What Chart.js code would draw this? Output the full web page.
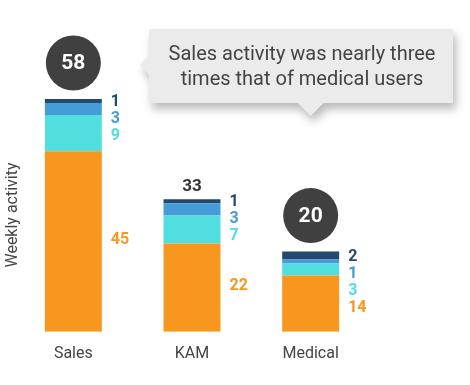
<!DOCTYPE html>
<html lang="en">
<head>
<meta charset="UTF-8">
<title>weekly activity</title>
<script src="https://cdn.jsdelivr.net/npm/chart.js@4.4.1/dist/chart.umd.min.js"></script>
<style>
  html, body { margin: 0; padding: 0; background: #fff; }
  #wrap { width: 470px; height: 385px; position: relative; }
</style>
</head>
<body>
<div id="wrap">
  <canvas id="mycanvas" width="470" height="385"></canvas>
</div>
<script>
// data
var categories = ['Sales', 'KAM', 'Medical'];
var orangeVals = [45, 22, 14];
var cyanVals = [9, 7, 3];
var blueVals = [3, 3, 1];
var navyVals = [1, 1, 2];
var circled = [true, false, true];
var calloutLines = ['Sales activity was nearly three', 'times that of medical users'];

var colors = ['#F7971E', '#52DEDE', '#459CD6', '#234A6E'];
var FONT = 'Roboto, "Noto Sans", sans-serif';

// labels + totals + callout
var labelPlugin = {
    id: 'labels',
    afterDatasetsDraw: function (chart) {
        var ctx = chart.ctx;
        var n = chart.data.datasets.length;
        ctx.save();
        for (var j = 0; j < categories.length; j++) {
            // segment labels, top one first
            var prev = -1000;
            var total = 0;
            for (var i = n - 1; i >= 0; i--) {
                var bar = chart.getDatasetMeta(i).data[j];
                var v = chart.data.datasets[i].data[j];
                total += v;
                var cy = (bar.y + bar.base) / 2;
                if (i == 0) cy -= 3;
                var y = Math.max(cy, prev + 17);
                prev = y;
                ctx.font = 'bold 16px ' + FONT;
                ctx.fillStyle = colors[i];
                ctx.textAlign = 'left';
                ctx.textBaseline = 'middle';
                ctx.fillText(String(v), bar.x + bar.width / 2 + 9, y + 1);
            }
            // total on top
            var top = chart.getDatasetMeta(n - 1).data[j];
            if (circled[j]) {
                ctx.beginPath();
                ctx.arc(top.x, top.y - 36, 27.5, 0, Math.PI * 2);
                ctx.fillStyle = '#404040';
                ctx.fill();
                ctx.font = 'bold 21px ' + FONT;
                ctx.fillStyle = '#fff';
                ctx.textAlign = 'center';
                ctx.fillText(String(total), top.x, top.y - 35);
            } else {
                ctx.font = 'bold 17px ' + FONT;
                ctx.fillStyle = '#333';
                ctx.textAlign = 'center';
                ctx.fillText(String(total), top.x, top.y - 13);
            }
        }

        // callout box
        var tipX = chart.getDatasetMeta(n - 1).data[2].x;
        ctx.save();
        ctx.shadowColor = 'rgba(0,0,0,0.28)';
        ctx.shadowBlur = 10;
        ctx.shadowOffsetX = 3;
        ctx.shadowOffsetY = 6;
        ctx.fillStyle = '#EBEBEB';
        ctx.beginPath();
        ctx.moveTo(149, 29);
        ctx.lineTo(453, 29);
        ctx.lineTo(453, 103);
        ctx.lineTo(tipX + 13, 103);
        ctx.lineTo(tipX, 116);
        ctx.lineTo(tipX - 13, 103);
        ctx.lineTo(149, 103);
        ctx.lineTo(149, 75);
        ctx.lineTo(140, 65);
        ctx.lineTo(149, 55);
        ctx.closePath();
        ctx.fill();
        ctx.restore();
        ctx.font = '20px ' + FONT;
        ctx.fillStyle = '#444';
        ctx.textAlign = 'center';
        ctx.textBaseline = 'middle';
        ctx.fillText(calloutLines[0], 302, 55);
        ctx.fillText(calloutLines[1], 302, 80);

        // y axis title
        ctx.save();
        ctx.translate(13, 215);
        ctx.rotate(-Math.PI / 2);
        ctx.font = '16px ' + FONT;
        ctx.fillStyle = '#444';
        ctx.textAlign = 'center';
        ctx.textBaseline = 'middle';
        ctx.fillText('Weekly activity', 0, 0);
        ctx.restore();
        ctx.restore();
    }
};

var chartdata = {
    labels: categories,
    datasets: [
        { label: 'orange', data: orangeVals, backgroundColor: colors[0] },
        { label: 'cyan', data: cyanVals, backgroundColor: colors[1] },
        { label: 'blue', data: blueVals, backgroundColor: colors[2] },
        { label: 'navy', data: navyVals, backgroundColor: colors[3] }
    ]
};

var ctx = document.getElementById('mycanvas');
var barGraph = new Chart(ctx, {
    type: 'bar',
    data: chartdata,
    options: {
        responsive: false,
        animation: false,
        datasets: { bar: { categoryPercentage: 1, barPercentage: 0.48, borderWidth: 0 } },
        layout: { padding: { left: 14, right: 100, top: 91, bottom: 8 } },
        scales: {
            x: {
                stacked: true,
                grid: { display: false, drawTicks: false },
                border: { display: false },
                ticks: { color: '#444', font: { family: FONT, size: 16 }, padding: 13 }
            },
            y: { stacked: true, display: false, min: 0, max: 60 }
        },
        plugins: { legend: { display: false }, tooltip: { enabled: false } }
    },
    plugins: [labelPlugin]
});
</script>
</body>
</html>
